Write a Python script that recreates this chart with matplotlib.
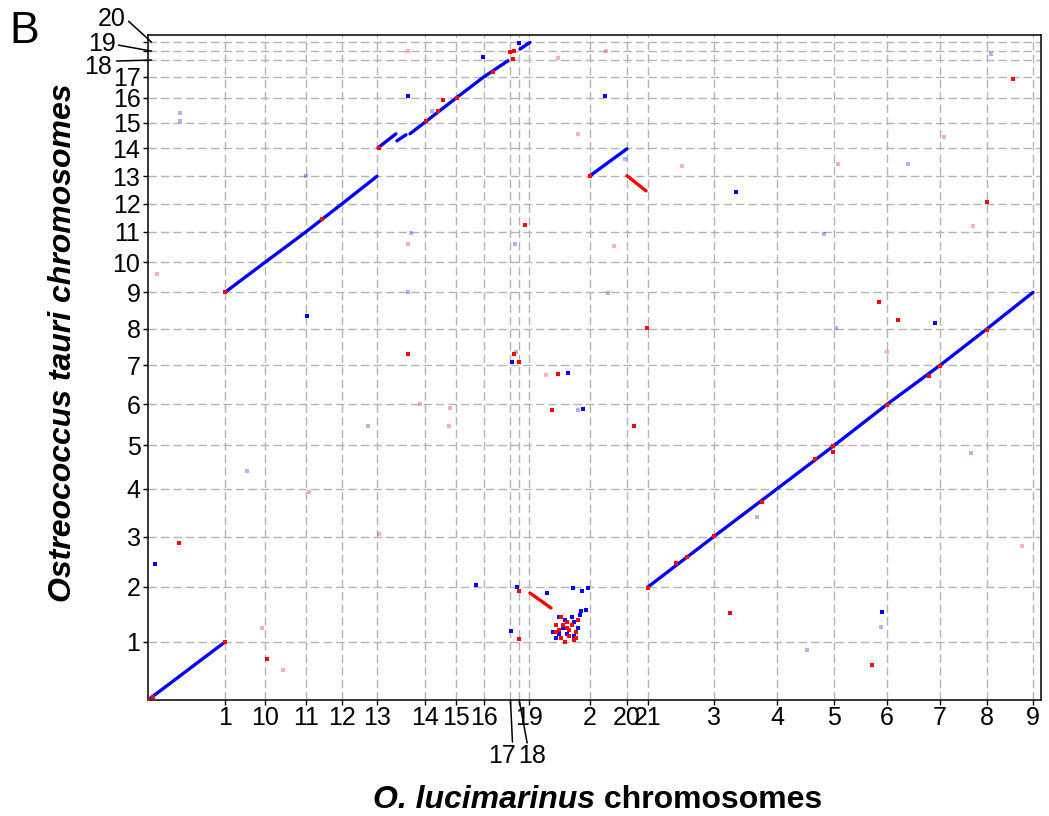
import matplotlib
matplotlib.use("Agg")
import matplotlib.pyplot as plt
import numpy as np

plt.rcParams["font.family"] = ["Liberation Sans", "DejaVu Sans"]

# O. lucimarinus chromosomes (x), in plotted order, lengths in Mb
luc_names = ["1", "10", "11", "12", "13", "14", "15", "16", "17", "18", "19",
             "2", "20", "21", "3", "4", "5", "6", "7", "8", "9"]
luc_len = [1.15, 0.60, 0.61, 0.54, 0.52, 0.72, 0.46, 0.42, 0.39, 0.13, 0.15,
           0.91, 0.55, 0.31, 0.99, 0.94, 0.85, 0.79, 0.79, 0.70, 0.69]
# Ostreococcus tauri chromosomes (y), lengths in Mb
tau_names = [str(i) for i in range(1, 21)]
tau_len = [1.11, 1.05, 0.96, 0.91, 0.83, 0.79, 0.74, 0.70, 0.70, 0.57,
           0.58, 0.54, 0.52, 0.54, 0.48, 0.48, 0.40, 0.32, 0.17, 0.17]

# syntenic runs, same strand (genome coordinates, Mb)
fwd_runs = [
    [(0.0, 0.0), (1.149, 1.108)],
    [(1.149, 7.784), (1.746, 8.357), (2.358, 8.940), (2.896, 9.475), (3.418, 10.000)],
    [(3.433, 10.544), (3.701, 10.812)],
    [(3.716, 10.678), (3.851, 10.793)],
    [(3.910, 10.812), (4.142, 11.041), (4.604, 11.500), (5.015, 11.901), (5.373, 12.206)],
    [(5.552, 12.430), (5.701, 12.556)],
    [(6.597, 10.010), (7.149, 10.525)],
    [(7.463, 2.159), (8.448, 3.123), (9.388, 4.031), (10.239, 4.858), (11.030, 5.645),
     (11.821, 6.390), (12.522, 7.087), (13.209, 7.784)],
]
# syntenic runs, opposite strand
rev_runs = [
    [(7.149, 10.010), (7.433, 9.723)],
    [(5.701, 2.044), (6.015, 1.757)],
]

# isolated hits, same strand
fwd_hits = [(2.369, 7.335), (0.109, 2.598), (5.437, 6.462), (6.273, 6.240), (6.488, 5.559),
            (7.258, 5.226), (5.004, 12.277), (3.885, 11.525), (6.821, 11.525), (5.537, 12.550),
            (8.776, 9.691), (11.746, 7.207), (10.955, 1.675), (5.503, 2.164), (5.951, 2.038),
            (6.339, 2.139), (6.473, 2.082), (6.572, 2.134), (6.537, 1.719), (6.458, 1.700),
            (5.413, 1.324), (4.896, 2.197), (7.452, 7.112),
            (6.134, 1.585), (6.328, 1.585), (6.418, 1.375), (6.134, 1.261), (6.254, 1.261),
            (6.358, 1.223), (6.194, 1.375), (6.045, 1.299), (6.448, 1.624), (6.224, 1.528),
            (6.358, 1.490), (6.090, 1.184)]
fwd_weak = [(0.473, 11.207), (0.482, 11.047), (2.358, 10.004), (3.284, 5.240), (1.482, 4.374),
            (3.921, 8.915), (5.478, 8.705), (3.885, 7.788), (6.870, 7.780), (5.493, 6.653),
            (6.413, 5.540), (4.234, 11.251), (7.119, 10.328), (11.348, 10.239), (10.085, 8.896),
            (10.269, 7.100), (12.279, 4.724), (9.085, 3.501), (10.936, 1.389), (9.840, 0.955),
            (12.578, 12.340)]
# isolated hits, opposite strand
rev_hits = [(0.0, 0.0), (0.08, 0.06), (1.149, 1.108), (1.149, 7.784), (2.597, 9.194),
            (3.448, 10.539), (4.145, 11.047), (4.324, 11.238), (4.607, 11.494), (5.154, 11.983),
            (5.403, 12.365), (5.463, 12.384), (5.448, 12.239), (6.597, 10.010), (7.470, 2.139),
            (8.448, 3.133), (10.224, 4.852), (11.030, 5.635), (11.821, 6.380), (12.522, 7.068),
            (11.661, 6.189), (9.160, 3.788), (9.955, 4.598), (7.881, 2.611), (8.040, 2.726),
            (10.224, 4.743), (0.463, 2.993), (1.772, 0.777), (5.627, 9.074), (3.876, 6.604),
            (5.463, 6.604), (5.537, 6.462), (6.115, 6.227), (6.034, 5.540), (7.258, 5.226),
            (4.399, 11.461), (12.518, 9.500), (10.915, 7.608), (11.199, 7.259), (8.687, 1.656),
            (10.801, 0.663), (12.906, 11.857), (5.542, 2.088), (5.533, 1.165), (7.452, 7.112),
            (6.164, 1.585), (6.194, 1.433), (6.254, 1.375), (6.284, 1.337), (6.328, 1.433),
            (6.388, 1.299), (6.358, 1.146), (6.284, 1.223), (6.090, 1.299), (6.164, 1.184),
            (6.254, 1.490), (6.418, 1.528), (6.090, 1.433), (6.224, 1.108), (6.388, 1.184),
            (6.134, 1.337)]
rev_weak = [(0.139, 8.138), (2.399, 3.979), (3.448, 3.165), (1.697, 1.370), (2.010, 0.573),
            (3.885, 8.705), (6.955, 8.672), (5.940, 6.208), (4.060, 5.660), (4.507, 5.584),
            (4.493, 5.240), (3.885, 12.384), (6.124, 12.255), (6.836, 12.384), (6.422, 10.812),
            (7.966, 10.201), (10.294, 10.239), (12.318, 9.054), (11.025, 6.653), (13.049, 2.947),
            (11.881, 10.741)]

BLUE = "#0000ff"
RED = "#ff0000"

luc_bounds = np.cumsum(luc_len)
tau_bounds = np.cumsum(tau_len)

fig = plt.figure(figsize=(10.49, 8.16), dpi=100)
ax = fig.add_axes([148 / 1049, 116 / 816, 893 / 1049, 665 / 816])

for run in fwd_runs:
    xy = np.array(run)
    ax.plot(xy[:, 0], xy[:, 1], color=BLUE, lw=2.4, solid_capstyle="round", zorder=3)
for run in rev_runs:
    xy = np.array(run)
    ax.plot(xy[:, 0], xy[:, 1], color=RED, lw=2.4, solid_capstyle="round", zorder=3)

for pts, col, alpha in [(fwd_weak, BLUE, 0.3), (rev_weak, RED, 0.3),
                        (fwd_hits, BLUE, 1.0), (rev_hits, RED, 1.0)]:
    xy = np.array(pts)
    ax.plot(xy[:, 0], xy[:, 1], "s", color=col, ms=2.8, mew=0, alpha=alpha, zorder=4)

ax.set_xlim(0, luc_bounds[-1] * 1.009)
ax.set_ylim(0, tau_bounds[-1] * 1.011)

# ticks at chromosome ends; the crowded ones get leader lines below
leader_x = {"17", "18"}
leader_y = {"18", "19", "20"}
ax.set_xticks(luc_bounds)
ax.set_xticklabels(["" if n in leader_x else n for n in luc_names])
ax.set_yticks(tau_bounds)
ax.set_yticklabels(["" if n in leader_y else n for n in tau_names])
ax.tick_params(axis="both", direction="out", length=3.6, width=1.0, labelsize=18)
ax.tick_params(axis="x", pad=1.0)
ax.tick_params(axis="y", pad=1.8)
ax.grid(True, color="#b4b4b4", lw=1.0, ls=(0, (6, 3)))
ax.set_axisbelow(True)
for sp in ax.spines.values():
    sp.set_linewidth(1.1)

tx = ax.get_xaxis_transform()
ty = ax.get_yaxis_transform()
x_leaders = {"17": ((2, -42), (-8, -56)), "18": ((8, -43), (13, -56))}
for name, (line_end, lab) in x_leaders.items():
    b = luc_bounds[luc_names.index(name)]
    ax.annotate("", xy=(b, 0), xycoords=tx, xytext=line_end, textcoords="offset pixels",
                arrowprops=dict(arrowstyle="-", lw=1.1, color="black", shrinkA=0, shrinkB=0),
                annotation_clip=False)
    ax.annotate(name, xy=(b, 0), xycoords=tx, xytext=lab, textcoords="offset pixels",
                ha="center", va="center", fontsize=18, annotation_clip=False)

y_leaders = {"20": ((-23, 21), (-40, 23)), "19": ((-33, 6), (-50, 7)),
             "18": ((-35, -1), (-54, -7))}
for name, (line_end, lab) in y_leaders.items():
    b = tau_bounds[tau_names.index(name)]
    ax.annotate("", xy=(0.004, b), xycoords=ty, xytext=line_end, textcoords="offset pixels",
                arrowprops=dict(arrowstyle="-", lw=1.1, color="black", shrinkA=0, shrinkB=0),
                annotation_clip=False)
    ax.annotate(name, xy=(0.004, b), xycoords=ty, xytext=lab, textcoords="offset pixels",
                ha="center", va="center", fontsize=18, annotation_clip=False)

# x label: species name italic, rest upright
xl_y = (700 - 808) / 665
xl_split = (595 - 148) / 893
ax.text(xl_split, xl_y, "O. lucimarinus", transform=ax.transAxes, ha="right",
        va="baseline", fontsize=23, fontweight="bold", fontstyle="italic")
ax.text(xl_split, xl_y, " chromosomes", transform=ax.transAxes, ha="left",
        va="baseline", fontsize=23, fontweight="bold")

yl = ax.set_ylabel("Ostreococcus tauri chromosomes", fontsize=23, fontweight="bold",
                   fontstyle="italic")
yl.set_verticalalignment("baseline")
ax.yaxis.set_label_coords((71 - 148) / 893, (700 - 343) / 665)

fig.text(9 / 1049, 1 - 43 / 816, "B", fontsize=32, ha="left", va="baseline")

fig.savefig("out.png", dpi=100)
